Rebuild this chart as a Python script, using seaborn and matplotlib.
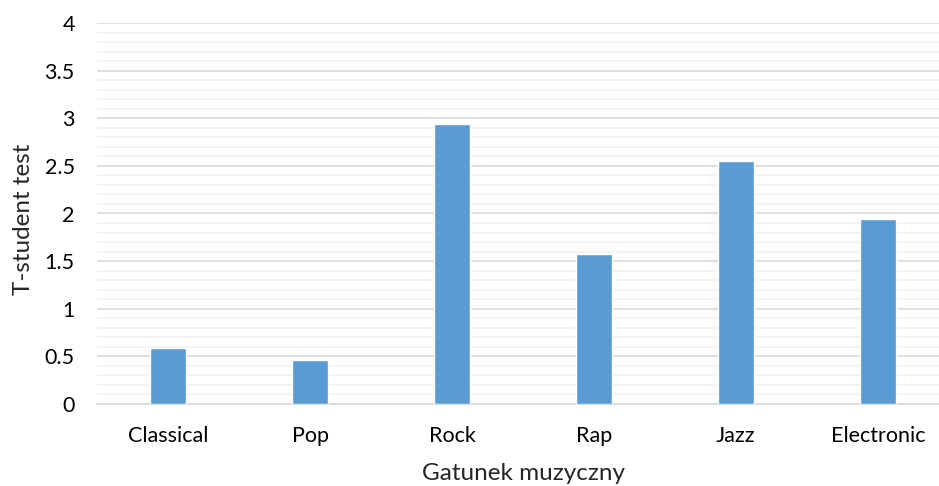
import matplotlib
matplotlib.use("Agg")
import matplotlib.pyplot as plt
import seaborn as sns
import pandas as pd
from matplotlib.ticker import MultipleLocator

genres = ["Classical", "Pop", "Rock", "Rap", "Jazz", "Electronic"]
t_values = [0.59, 0.46, 2.94, 1.57, 2.55, 1.94]

df = pd.DataFrame({"genre": genres, "t": t_values})

sns.set_theme(style="white")
plt.rcParams["font.family"] = ["Lato", "DejaVu Sans"]

fig = plt.figure(figsize=(9.39, 4.86), dpi=100)
ax = fig.add_axes([97 / 939, 82 / 486, 852 / 939, 381 / 486])

sns.barplot(data=df, x="genre", y="t", color="#5B9BD5", width=0.25,
            saturation=1, ax=ax, zorder=3)

ax.set_xlim(-0.5, 5.5)
ax.set_ylim(0, 4)
ax.yaxis.set_major_locator(MultipleLocator(0.5))
ax.yaxis.set_minor_locator(MultipleLocator(0.1))
ax.grid(axis="y", which="major", color="#D9D9D9", linewidth=1.2, zorder=1)
ax.grid(axis="y", which="minor", color="#F2F2F2", linewidth=1.2, zorder=0)
ax.set_yticklabels([f"{v:g}" for v in ax.get_yticks()])

for side in ["top", "right", "left"]:
    ax.spines[side].set_visible(False)
ax.spines["bottom"].set_color("#D9D9D9")
ax.spines["bottom"].set_linewidth(1.2)

ax.tick_params(axis="both", which="both", length=0, labelsize=15.5, colors="#000000")
ax.tick_params(axis="y", pad=16)
ax.tick_params(axis="x", pad=16)
ax.set_xlabel("Gatunek muzyczny", fontsize=17.5, labelpad=12)
ax.set_ylabel("T-student test", fontsize=17.5)
ax.yaxis.set_label_coords(-0.074, 0.485)

fig.savefig("out.png", dpi=100)
